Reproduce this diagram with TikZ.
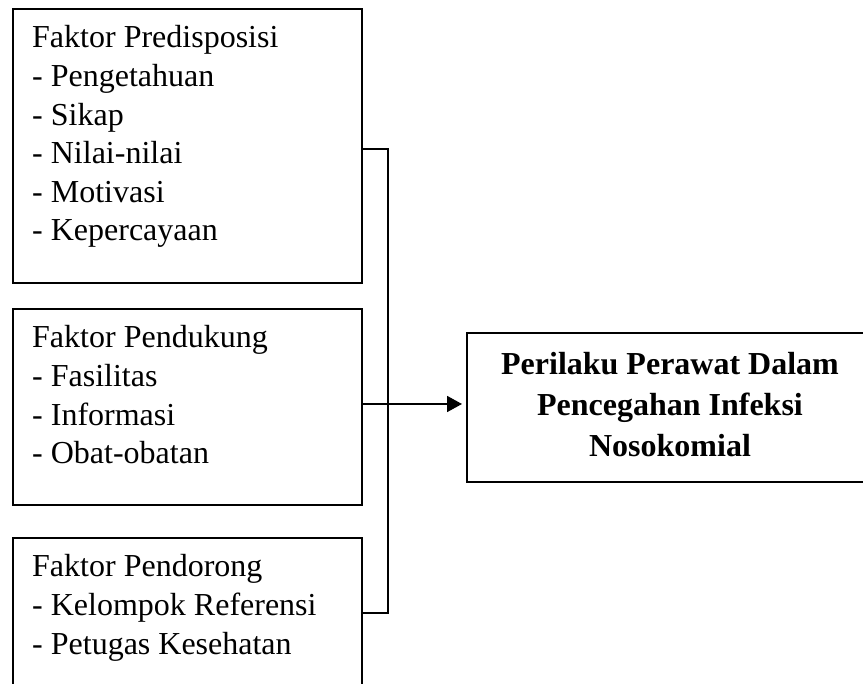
\documentclass[tikz,border=0pt]{standalone}
\usepackage{fontspec}
\setmainfont{Liberation Serif}
\usetikzlibrary{arrows.meta}
\tikzset{
  box/.style={draw=black, line width=1.8pt, rectangle, inner sep=0pt, anchor=north west},
  label/.style={inner sep=0pt, font=\fontsize{32}{38.6}\selectfont},
  boldlabel/.style={inner sep=0pt, font=\fontsize{32}{41}\selectfont\bfseries},
  conn/.style={draw=black, line width=1.8pt},
}
\begin{document}
\begin{tikzpicture}[x=1pt,y=1pt]
\useasboundingbox (0,0) rectangle (863,-684);
\clip (0,0) rectangle (863,-684);
\fill[white] (0,0) rectangle (863,-684);
% boxes
\node[box, minimum width=349pt, minimum height=274pt] (b1) at (12,-8) {};
\node[box, minimum width=349pt, minimum height=196pt] (b2) at (12,-308) {};
\node[box, minimum width=349pt, minimum height=170pt] (b3) at (12,-537) {};
\node[box, minimum width=408pt, minimum height=149pt] (t) at (466,-332) {};
% texts
\node[label, anchor=base west] (t1) at (32,-48) {\begin{tabular}[t]{@{}l@{}}Faktor Predisposisi\\- Pengetahuan\\- Sikap\\- Nilai-nilai\\- Motivasi\\- Kepercayaan\end{tabular}};
\node[label, anchor=base west] (t2) at (32,-348) {\begin{tabular}[t]{@{}l@{}}Faktor Pendukung\\- Fasilitas\\- Informasi\\- Obat-obatan\end{tabular}};
\node[label, anchor=base west] (t3) at (32,-577) {\begin{tabular}[t]{@{}l@{}}Faktor Pendorong\\- Kelompok Referensi\\- Petugas Kesehatan\end{tabular}};
\node[boldlabel, anchor=base] (tt) at (670,-375) {\begin{tabular}[t]{@{}c@{}}Perilaku Perawat Dalam\\Pencegahan Infeksi\\Nosokomial\end{tabular}};
% connectors
\coordinate (j1) at (388,-149);
\coordinate (j2) at (388,-404);
\coordinate (j3) at (388,-613);
\draw[conn] (j1 -| b1.east) -- (j1) -- (j3) -- (j3 -| b3.east);
\draw[conn, -{Triangle[length=15pt,width=16pt]}, shorten >=4pt] (j2 -| b2.east) -- (j2 -| t.west);
\end{tikzpicture}
\end{document}
